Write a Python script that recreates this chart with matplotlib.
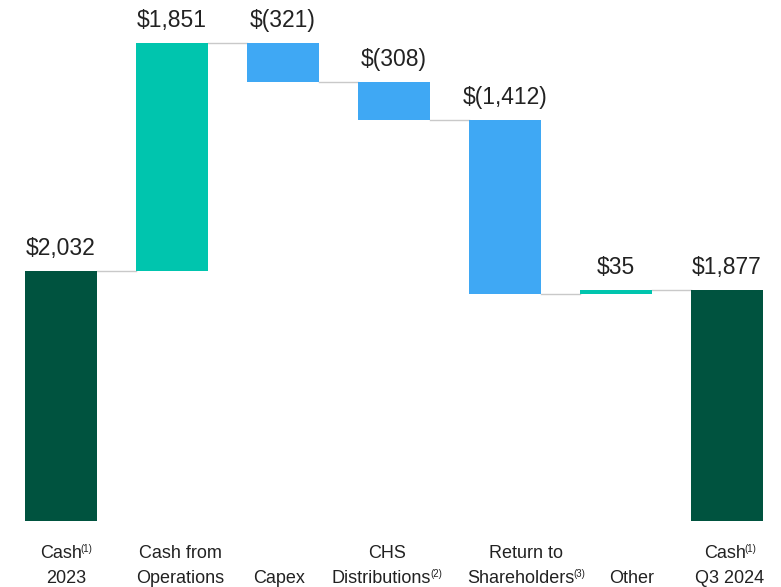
import numpy as np
import matplotlib.pyplot as plt

plt.rcParams['font.family'] = ['Liberation Sans', 'DejaVu Sans']

# category labels: (text, footnote) for the two lines under each bar
line1 = [("Cash", "(1)"), ("Cash from", ""), ("", ""), ("CHS", ""),
         ("Return to", ""), ("", ""), ("Cash", "(1)")]
line2 = [("2023", ""), ("Operations", ""), ("Capex", ""), ("Distributions", "(2)"),
         ("Shareholders", "(3)"), ("Other", ""), ("Q3 2024", "")]
changes = [2032, 1851, -321, -308, -1412, 35, 1877]
value_labels = ["$2,032", "$1,851", "$(321)", "$(308)", "$(1,412)", "$35", "$1,877"]
kinds = ["total", "up", "down", "down", "down", "up", "total"]

colors = {"total": "#00533F", "up": "#00C5AE", "down": "#3FA8F4"}
# small horizontal nudges (px) of the category labels, as in the source slide
label_shift = [5, 8, -4, -7, 21, 16, 3]

# bottoms / tops of each bar
bottoms, tops, ends = [], [], []
level = 0
for v, k in zip(changes, kinds):
    if k == "total":
        bottoms.append(0)
        tops.append(v)
        level = v
    else:
        new = level + v
        bottoms.append(min(level, new))
        tops.append(max(level, new))
        level = new
    ends.append(level)

x = np.arange(len(changes))
w = 0.65

fig = plt.figure(figsize=(7.81, 5.87), dpi=100)
ax = fig.add_axes([0, 66/587, 1, 521/587])

ax.bar(x, np.array(tops) - np.array(bottoms), bottom=bottoms, width=w,
       color=[colors[k] for k in kinds], zorder=3)

# connectors
for i in range(len(changes) - 1):
    y = ends[i]
    ax.plot([x[i] + w/2, x[i+1] - w/2], [y, y], color="#c9c9c9", lw=1.0, zorder=2)

# value labels above each bar
for i, lab in enumerate(value_labels):
    ax.annotate(lab, (x[i], tops[i]), xytext=(0, 8), textcoords="offset points",
                ha="center", va="bottom", fontsize=16.5, color="#222222")

ax.set_xticks([])
ax.set_yticks([])
for s in ax.spines.values():
    s.set_visible(False)
ax.set_xlim(-0.55, 6.486)
ax.set_ylim(0, 4232)

# category labels, two lines on fixed baselines; footnote marks drawn small
px = 0.72
pairs = []
for i in range(len(x)):
    for (txt, sup), off in ((line1[i], 37), (line2[i], 62)):
        if not txt:
            continue
        t = ax.annotate(txt, (x[i], 0), xycoords=("data", "axes fraction"),
                        xytext=(0, -off * px), textcoords="offset points",
                        ha="left", va="baseline", fontsize=13, color="#222222")
        s = None
        if sup:
            s = ax.annotate(sup, (x[i], 0), xycoords=("data", "axes fraction"),
                            xytext=(0, (-off + 6) * px), textcoords="offset points",
                            ha="left", va="baseline", fontsize=7, color="#222222")
        pairs.append((i, off, t, s))

fig.canvas.draw()
r = fig.canvas.get_renderer()
for i, off, t, s in pairs:
    wt = t.get_window_extent(r).width
    ws = s.get_window_extent(r).width - 1 if s is not None else 0
    left = label_shift[i] - (wt + ws) / 2
    t.set_position((left * px, -off * px))
    if s is not None:
        s.set_position(((left + wt - 1) * px, (-off + 6) * px))

fig.savefig("out.png", dpi=100)
